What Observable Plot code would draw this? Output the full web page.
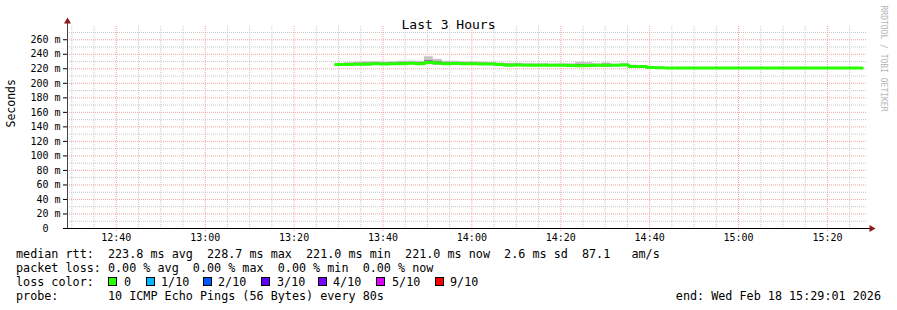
<!DOCTYPE html>
<html><head><meta charset="utf-8">
<script src="https://cdn.jsdelivr.net/npm/d3@7"></script>
<script src="https://cdn.jsdelivr.net/npm/@observablehq/plot@0.6"></script>
<style>
html,body{margin:0;padding:0;background:#fff;}
#wrap{position:relative;width:897px;height:310px;overflow:hidden;font-family:"DejaVu Sans Mono",monospace;background:#fff;}
#chart{position:absolute;left:0;top:0;}
#legend{position:absolute;left:0;top:245px;width:897px;height:65px;font-size:11.75px;line-height:14px;color:#000;}
.row{position:absolute;left:16px;white-space:pre;}
.box{position:absolute;width:7px;height:7px;border:1px solid #000;}
.lab{position:absolute;white-space:pre;}
</style></head>
<body><div id="wrap"><div id="chart"></div><div id="legend"></div></div>
<script>
const day = "2026-02-18";
const titleText = "Last 3 Hours";
const yLabel = "Seconds";
const watermark = "RRDTOOL / TOBI OETIKER";
const xStartTime = "12:29:01";
const xEndTime = "15:29:01";
const xTickLabels = ["12:40","13:00","13:20","13:40","14:00","14:20","14:40","15:00","15:20"];
const yTicks = [0,20,40,60,80,100,120,140,160,180,200,220,240,260];
const yMinor = [10,30,50,70,90,110,130,150,170,190,210,230,250,270];

// median RTT steps (ms), smoke ranges (ms)
const stepTimes = ["13:29:20","13:31:20","13:33:20","13:35:20","13:37:20","13:39:20","13:41:20","13:43:20","13:45:20","13:47:20",
  "13:49:20","13:51:20","13:53:20","13:55:20","13:57:20","13:59:20","14:01:20","14:03:20","14:05:20","14:07:20",
  "14:09:20","14:11:20","14:13:20","14:15:20","14:17:20","14:19:20","14:21:20","14:23:20","14:25:20","14:27:20",
  "14:29:20","14:31:20","14:33:20","14:35:20","14:37:20","14:39:20","14:41:20","14:43:20","15:27:50"];
const medianMs = [226.0,226.0,226.3,226.3,226.8,226.5,226.8,227.0,227.5,227.0,
  228.7,228.0,227.0,227.2,227.0,226.8,226.5,226.5,226.0,225.0,
  225.2,225.0,224.8,225.0,224.8,224.8,224.6,224.2,224.5,224.8,
  225.0,225.0,225.2,223.2,223.0,221.8,221.6,221.0,221.0];
const smokeLoMs = [224.5,224.0,224.5,224.5,225.0,224.5,225.0,225.0,225.5,225.0,
  225.5,225.0,225.0,225.0,225.5,224.5,224.5,224.5,224.0,223.5,
  223.5,223.5,223.0,223.5,223.0,223.0,223.0,222.5,222.5,222.5,
  222.0,222.5,223.5,222.0,222.0,221.0,221.0,221.0,221.0];
const smokeHiMs = [227.5,228.5,229.0,229.5,229.5,229.0,229.5,230.5,230.5,230.0,
  236.5,233.0,230.5,230.5,229.5,229.5,229.0,228.5,228.0,227.5,
  227.5,227.0,227.0,227.0,226.5,227.0,227.0,229.0,228.5,227.0,
  228.0,226.5,227.0,225.0,224.5,222.5,222.0,221.0,221.0];
const innerLoMs = [224.8,224.2,224.8,225.0,225.5,225.0,225.2,225.5,225.8,225.5,
  226.0,225.5,225.3,225.5,225.8,225.0,224.8,224.8,224.3,223.8,
  224.0,223.8,223.2,223.8,223.2,223.5,223.3,223.0,223.0,222.8,
  222.5,223.0,223.8,222.3,222.2,221.2,221.1,221.0,221.0];
const innerHiMs = [226.8,227.2,227.5,227.8,228.0,227.8,228.0,228.5,228.8,228.5,
  231.0,229.8,228.5,228.5,228.0,228.0,227.5,227.5,227.0,226.2,
  226.2,226.0,225.8,226.0,225.8,225.8,225.8,226.0,226.0,225.8,
  226.2,225.8,226.0,224.2,223.8,222.2,221.9,221.0,221.0];

const lossLabels = ["0","1/10","2/10","3/10","4/10","5/10","9/10"];
const lossColors = ["#26ff00","#00b8ff","#0059ff","#5e00ff","#7e00ff","#dd00ff","#ff0000"];
const rttStats = ["223.8","228.7","221.0","221.0"];
const rttSd = "2.6";
const rttAmps = "87.1";
const lossStats = ["0.00","0.00","0.00","0.00"];
const probeText = "10 ICMP Echo Pings (56 Bytes) every 80s";
const endText = "end: Wed Feb 18 15:29:01 2026";

const T = s => new Date(`${day}T${s.length === 5 ? s + ":00" : s}Z`);
const x0 = T(xStartTime), x1 = T(xEndTime);
const xTicks = xTickLabels.map(T);
const majorSet = new Set(xTicks.map(d => +d));
const xMinor = d3.utcMinute.every(5).range(x0, x1).filter(d => !majorSet.has(+d));

const steps = stepTimes.map((t, i) => ({t: T(t), m: medianMs[i], lo: smokeLoMs[i], hi: smokeHiMs[i], ilo: innerLoMs[i], ihi: innerHiMs[i]}));
const spans = steps.slice(0, -1).map((d, i) => ({...d, x1: d.t, x2: steps[i + 1].t}));
const smokeOuter = spans.filter(d => d.hi > d.lo);
const smokeInner = spans.filter(d => d.ihi > d.ilo);

const gridMinor = "#c8c8c8", gridMajor = "#f4a4a4";

const chart = Plot.plot({
  width: 897, height: 245,
  marginLeft: 67, marginRight: 30, marginTop: 32, marginBottom: 17,
  style: {fontFamily: "'DejaVu Sans Mono', monospace", fontSize: "10px", background: "#fff", overflow: "visible", color: "#000"},
  x: {type: "utc", domain: [x0, x1]},
  y: {domain: [0, 270]},
  marks: [
    Plot.ruleY(yMinor, {stroke: gridMinor, strokeDasharray: "1,1"}),
    Plot.ruleX(xMinor, {stroke: gridMinor, strokeDasharray: "1,1", insetTop: -6}),
    Plot.ruleY(yTicks.filter(d => d > 0), {stroke: gridMajor, strokeDasharray: "1,1"}),
    Plot.ruleX(xTicks, {stroke: gridMajor, strokeDasharray: "1,1", insetTop: -6, insetBottom: -3}),
    Plot.rect(smokeOuter, {x1: "x1", x2: "x2", y1: "lo", y2: "hi", fill: "#c4c4c4"}),
    Plot.rect(smokeInner, {x1: "x1", x2: "x2", y1: "ilo", y2: "ihi", fill: "#6e6e6e"}),
    Plot.line(steps, {x: "t", y: "m", curve: "step-after", stroke: lossColors[0], strokeWidth: 3}),
    Plot.axisY(yTicks, {tickSize: 4, tickPadding: 3, fontSize: 10, label: null,
      tickFormat: d => d === 0 ? "0\u00a0\u00a0" : `${d} m`}),
    Plot.axisX(xTicks, {tickSize: 0, tickPadding: 5, fontSize: 10, label: null, tickFormat: d3.utcFormat("%H:%M")}),
    Plot.ruleY([0], {stroke: "#000", insetRight: -4}),
    Plot.ruleX([x0], {stroke: "#444", insetTop: -10}),
    Plot.dot([x0], {x: d => d, frameAnchor: "top", dy: -11, symbol: "triangle", r: 2.6, fill: "#8b1a1a", stroke: "none"}),
    Plot.dot([0], {y: d => d, frameAnchor: "right", dx: 4, symbol: "triangle", rotate: 90, r: 2.6, fill: "#8b1a1a", stroke: "none"}),
    Plot.text([yLabel], {frameAnchor: "left", rotate: -90, dx: -56, dy: -3, fontSize: 11.5, fill: "#000"}),
    Plot.text([titleText], {frameAnchor: "top", dx: -19, dy: -13, fontSize: 13, fill: "#000"}),
    Plot.text([watermark], {frameAnchor: "top-right", rotate: 90, textAnchor: "start", dx: 19, dy: -27, fontSize: 8, fill: "#b4b4b4"})
  ]
});
document.getElementById("chart").appendChild(chart);

const legend = document.getElementById("legend");
function addRow(text, top) {
  const d = document.createElement("div");
  d.className = "row"; d.style.top = top + "px"; d.textContent = text;
  legend.appendChild(d); return d;
}
addRow(`median rtt:  ${rttStats[0]} ms avg  ${rttStats[1]} ms max  ${rttStats[2]} ms min  ${rttStats[3]} ms now  ${rttSd} ms sd  ${rttAmps}   am/s`, 2);
addRow(`packet loss: ${lossStats[0]} % avg  ${lossStats[1]} % max  ${lossStats[2]} % min  ${lossStats[3]} % now`, 16);
addRow("loss color:", 30);
addRow(`probe:       ${probeText}`, 44);
const endDiv = document.createElement("div");
endDiv.className = "lab"; endDiv.style.top = "44px"; endDiv.style.right = "16px"; endDiv.textContent = endText;
legend.appendChild(endDiv);
const boxX = [108,146,203,261,318,376,435];
const labX = [124,161,218,277,333,392,450];
lossLabels.forEach((l, i) => {
  const b = document.createElement("div");
  b.className = "box"; b.style.left = boxX[i] + "px"; b.style.top = "32px"; b.style.background = lossColors[i];
  legend.appendChild(b);
  const t = document.createElement("div");
  t.className = "lab"; t.style.left = labX[i] + "px"; t.style.top = "30px"; t.textContent = l;
  legend.appendChild(t);
});
</script>
</body></html>
